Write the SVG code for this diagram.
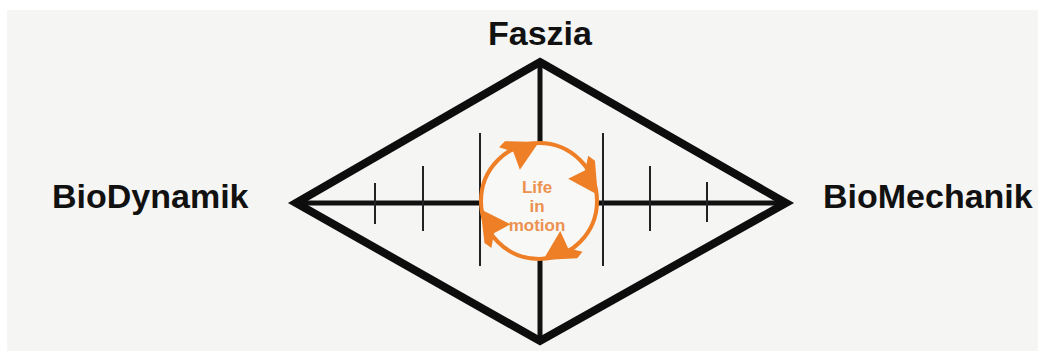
<svg xmlns="http://www.w3.org/2000/svg" width="1038" height="351" viewBox="0 0 1038 351">
  <defs>
    <style>
      .lbl { font-family: "Liberation Sans", Arial, sans-serif; font-weight: bold; font-size: 34px; fill: #111; }
      .life { font-family: "Liberation Sans", Arial, sans-serif; font-weight: bold; font-size: 17px; fill: #ec9150; text-anchor: middle; }
      .tick { stroke: #222; stroke-width: 2; }
      .axis { stroke: #111; stroke-width: 5; }
      .arrow { fill: #ee7f26; }
    </style>
    <path id="ah" d="M 2,-59 L -32,-61 L -38,-55 L -24,-50 L -18,-32 Z"/>
  </defs>
  <rect x="0" y="0" width="1038" height="351" fill="#ffffff"/>
  <rect x="7" y="10" width="1031" height="341" fill="#f5f5f3"/>

  <g id="connectors">
    <line class="axis" x1="296" y1="203" x2="786" y2="203"/>
    <line class="axis" x1="540" y1="62" x2="540" y2="341"/>
    <line class="tick" x1="375" y1="183" x2="375" y2="224"/>
    <line class="tick" x1="423" y1="166" x2="423" y2="231"/>
    <line class="tick" x1="650" y1="166" x2="650" y2="231"/>
    <line class="tick" x1="707" y1="182" x2="707" y2="222"/>
    <line class="tick" x1="480" y1="133" x2="480" y2="266"/>
    <line class="tick" x1="603" y1="133" x2="603" y2="266"/>
  </g>

  <g id="diamond">
    <polygon points="540,62 786,203 540,341 296,203" fill="none" stroke="#0d0d0d" stroke-width="8" stroke-linejoin="miter" stroke-miterlimit="10"/>
  </g>

  <g id="life-in-motion">
    <circle cx="539" cy="201" r="58" fill="#f8f8f6" stroke="#ee7f26" stroke-width="4"/>
    <g transform="translate(539,201)" class="arrow">
      <use href="#ah" transform="rotate(-2)"/>
      <use href="#ah" transform="rotate(82)"/>
      <use href="#ah" transform="rotate(174)"/>
      <use href="#ah" transform="rotate(260)"/>
    </g>
    <text class="life" x="537" y="193">Life</text>
    <text class="life" x="537" y="212">in</text>
    <text class="life" x="537" y="231">motion</text>
  </g>

  <g id="faszia">
    <text class="lbl" x="540" y="45" text-anchor="middle">Faszia</text>
  </g>
  <g id="biodynamik">
    <text class="lbl" x="52" y="208">BioDynamik</text>
  </g>
  <g id="biomechanik">
    <text class="lbl" x="823" y="208">BioMechanik</text>
  </g>
</svg>
